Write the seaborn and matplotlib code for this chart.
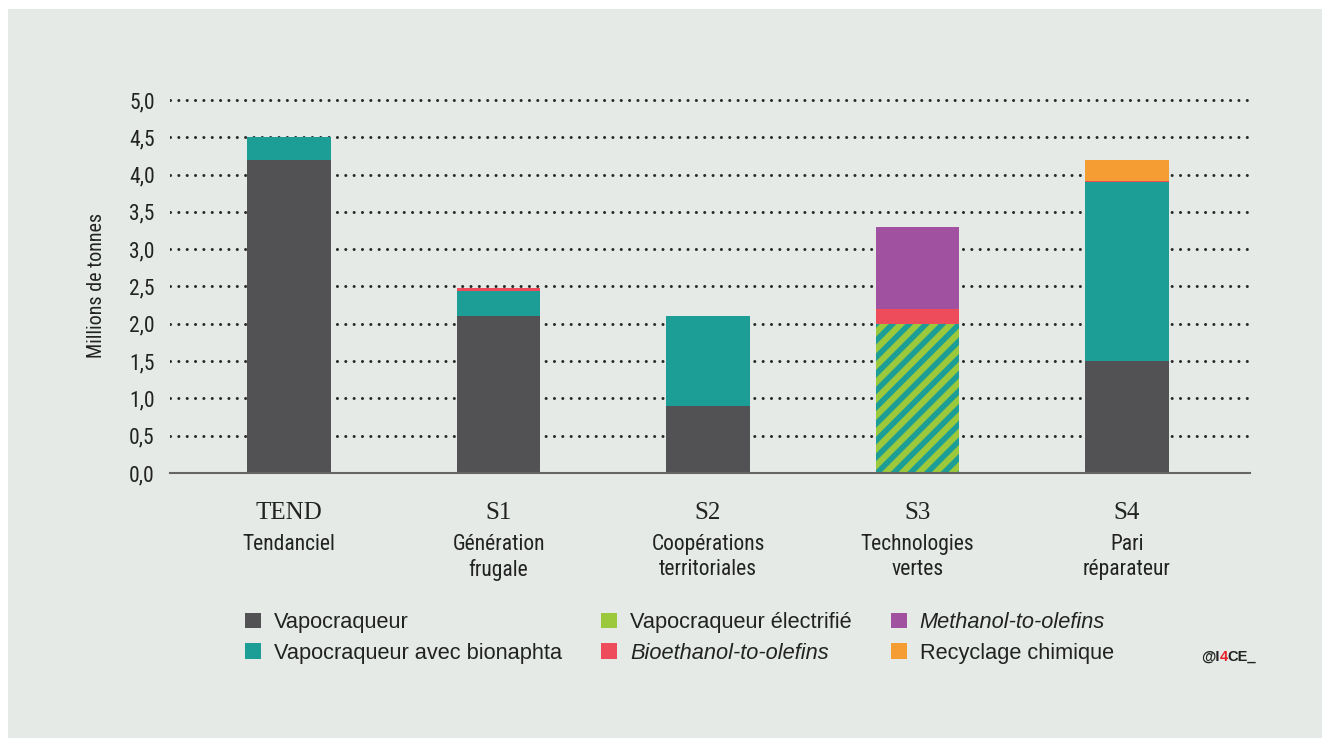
import numpy as np
import pandas as pd
import matplotlib
matplotlib.use("Agg")
import matplotlib.pyplot as plt
import seaborn as sns
from matplotlib.patches import Patch, Rectangle
from matplotlib import font_manager

# ---------------- data ----------------
categories = ["TEND", "S1", "S2", "S3", "S4"]
subtitles = ["Tendanciel", "Génération\nfrugale", "Coopérations\nterritoriales",
             "Technologies\nvertes", "Pari\nréparateur"]
vapocraqueur = [4.2, 2.1, 0.9, 0.0, 1.5]
bionaphta = [0.3, 0.34, 1.2, 0.0, 2.4]
electrifie = [0.0, 0.0, 0.0, 2.0, 0.0]
bioethanol = [0.0, 0.04, 0.0, 0.2, 0.02]
methanol = [0.0, 0.0, 0.0, 1.1, 0.0]
recyclage = [0.0, 0.0, 0.0, 0.0, 0.28]
yticks = [0.0, 0.5, 1.0, 1.5, 2.0, 2.5, 3.0, 3.5, 4.0, 4.5, 5.0]
series_names = ["Vapocraqueur", "Vapocraqueur avec bionaphta", "Vapocraqueur électrifié",
                "Bioethanol-to-olefins", "Methanol-to-olefins", "Recyclage chimique"]

# ---------------- style ----------------
BG = "#e5eae6"
C_VAPO = "#525254"
C_TEAL = "#1c9e97"
C_GREEN = "#9cc83b"
C_RED = "#ee4c5a"
C_PURPLE = "#a052a0"
C_ORANGE = "#f59c33"

sns.set_theme(style="white")
plt.rcParams["font.family"] = ["Liberation Sans", "DejaVu Sans"]
plt.rcParams["lines.scale_dashes"] = False
plt.rcParams["hatch.linewidth"] = 4.0

# find a condensed / narrow sans font
def pick_narrow():
    entries = font_manager.fontManager.ttflist
    names = {f.name for f in entries}
    for n in ["Liberation Sans Narrow", "Roboto Condensed", "Open Sans Condensed",
              "Noto Sans Condensed", "DejaVu Sans Condensed", "Arial Narrow"]:
        if n in names:
            return dict(fontfamily=n)
    for pref in ["Roboto", "Noto Sans", "Open Sans", "DejaVu Sans", "Liberation Sans"]:
        for f in entries:
            if f.name == pref and str(f.stretch) in ("condensed", "semi-condensed",
                                                      "extra-condensed") and f.style == "normal":
                return dict(fontfamily=pref, fontstretch=str(f.stretch))
    return None

NARROW = pick_narrow()
FOUND = NARROW is not None
if NARROW is None:
    NARROW = dict(fontfamily="Liberation Sans")

W, H = 1322, 738
fig = plt.figure(figsize=(W / 100, H / 100), dpi=100, facecolor="white")
fig.patches.append(Rectangle((8 / W, 0), 1 - 8 / W, 1 - 9 / H, transform=fig.transFigure,
                             facecolor=BG, edgecolor="none", zorder=-10))

x0, x1 = 170, 1250
y0px, ytop = 473, 98.5
ax = fig.add_axes([x0 / W, 1 - y0px / H, (x1 - x0) / W, (y0px - ytop) / H])
ax.set_facecolor("none")

layers = [
    (vapocraqueur, C_VAPO, None),
    (bionaphta, C_TEAL, None),
    (electrifie, C_GREEN, "//"),
    (bioethanol, C_RED, None),
    (methanol, C_PURPLE, None),
    (recyclage, C_ORANGE, None),
]
bottom = np.zeros(len(categories))
for vals, col, hatch in layers:
    vals = np.asarray(vals, dtype=float)
    kw = dict(linewidth=0)
    if hatch:
        kw.update(hatch=hatch, edgecolor=C_TEAL)
    else:
        kw.update(edgecolor=col)
    sns.barplot(x=categories, y=vals, bottom=bottom, color=col, saturation=1,
                width=0.4, ax=ax, zorder=3, **kw)
    bottom = bottom + vals

# dotted grid lines
for yv in yticks[1:]:
    ax.axhline(yv, color="#2a2a2a", lw=2.2, linestyle=(0, (0.01, 6.0)),
               dash_capstyle="round", zorder=1)

tick_fs = 15.5 if FOUND else 14
ax.set_xlim(-0.568, 4.587)
ax.set_ylim(0, 5.02)
ax.set_yticks(yticks)
ax.set_yticklabels([f"{v:.1f}".replace(".", ",") for v in yticks],
                   fontsize=tick_fs, color="#222222", **NARROW)
ax.tick_params(axis="y", length=0, pad=11)
ax.tick_params(axis="x", length=9, width=1.3, color="#666666", direction="out")
ax.set_xticks(range(len(categories)))
ax.set_xticklabels([])
for s in ["top", "right", "left"]:
    ax.spines[s].set_visible(False)
ax.spines["bottom"].set_color("#666666")
ax.spines["bottom"].set_linewidth(1.5)
ax.spines["bottom"].set_zorder(4)
ax.set_xlabel("")
ax.set_ylabel("")

trans = ax.get_xaxis_transform()
hax = y0px - ytop
sub_fs = 15.5 if FOUND else 14.5
for i, (c, s) in enumerate(zip(categories, subtitles)):
    ax.text(i, (y0px - 513) / hax, c,
            transform=trans, ha="center", va="center",
            fontfamily=["Liberation Serif", "DejaVu Serif"], fontsize=18, color="#222222")
    ax.text(i, (y0px - 534) / hax, s, transform=trans, ha="center", va="top",
            fontsize=sub_fs, color="#222222", linespacing=1.25, **NARROW)

fig.text(97 / W, 1 - 285 / H, "Millions de tonnes", rotation=90, ha="center", va="center",
         fontsize=14.5 if FOUND else 13, color="#222222", **NARROW)

# legend
handles = [Patch(facecolor=c, edgecolor="none") for c in
           [C_VAPO, C_TEAL, C_GREEN, C_RED, C_PURPLE, C_ORANGE]]
leg = fig.legend(handles, series_names, ncol=3, loc="upper left",
                 bbox_to_anchor=(245 / W, 1 - 612 / H), frameon=False,
                 fontsize=15.7, handlelength=0.72, handleheight=0.72,
                 handletextpad=0.6, columnspacing=1.8, labelspacing=0.45,
                 borderpad=0, borderaxespad=0)
for t in leg.get_texts():
    t.set_color("#222222")
    if t.get_text() in ("Bioethanol-to-olefins", "Methanol-to-olefins"):
        t.set_fontstyle("italic")

# @I4CE_ signature
renderer = fig.canvas.get_renderer()
xcur = 1201
for part, col in [("@I", "#222222"), ("4", "#e8202a"), ("CE_", "#222222")]:
    t = fig.text(xcur / W, 1 - 661 / H, part, color=col, fontsize=10.5,
                 ha="left", va="baseline", fontweight="bold")
    bb = t.get_window_extent(renderer)
    xcur = bb.x1

fig.savefig("out.png", dpi=100, facecolor=fig.get_facecolor())
